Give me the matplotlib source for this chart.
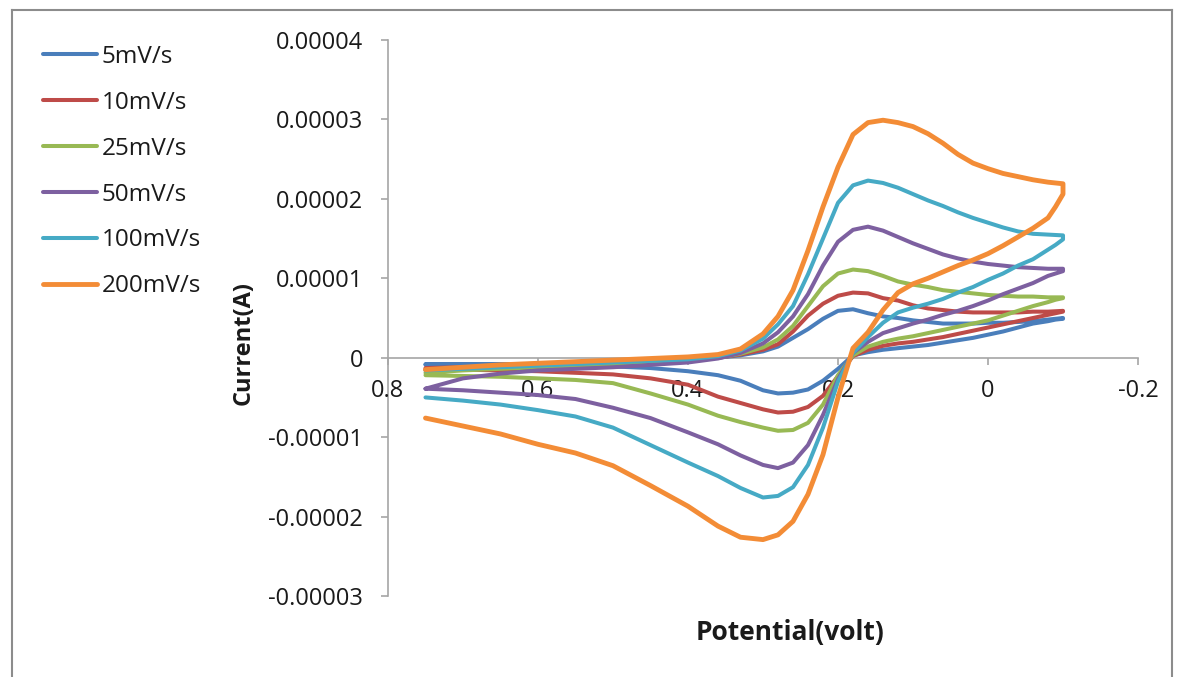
import matplotlib
matplotlib.use("Agg")
import matplotlib.pyplot as plt
from matplotlib.lines import Line2D

plt.rcParams['font.family'] = ['Open Sans', 'DejaVu Sans']

# potential grid (V): forward scan 0.75 -> -0.10, reverse scan back to 0.75
E_fwd = [0.75, 0.70, 0.65, 0.60, 0.55, 0.50, 0.45, 0.40, 0.36, 0.33, 0.30, 0.28, 0.26,
         0.24, 0.22, 0.20, 0.18, 0.16, 0.14, 0.12, 0.10, 0.08, 0.06, 0.04, 0.02, 0.00,
         -0.02, -0.04, -0.06, -0.08, -0.10]
E_rev = [-0.10, -0.10, -0.09, -0.08, -0.06, -0.04, -0.02, 0.00, 0.02, 0.04, 0.06, 0.08, 0.10,
         0.12, 0.14, 0.16, 0.18, 0.20, 0.22, 0.24, 0.26, 0.28, 0.30, 0.33, 0.36, 0.40, 0.45,
         0.50, 0.55, 0.60, 0.65, 0.70, 0.75]

labels = ["5mV/s", "10mV/s", "25mV/s", "50mV/s", "100mV/s", "200mV/s"]
colors = ["#4A7EBB", "#BE4B48", "#98B954", "#7D60A0", "#46AAC5", "#F38C36"]
widths = [2.9, 2.9, 2.9, 2.9, 2.9, 3.5]

# current in microamps
i_fwd_5 = [-0.8, -0.8, -0.8, -0.8, -0.8, -0.7, -0.6, -0.3, 0.0, 0.3, 0.8, 1.4, 2.5, 3.6, 4.9,
           5.9, 6.1, 5.6, 5.2, 5.0, 4.7, 4.5, 4.3, 4.3, 4.3, 4.4, 4.4, 4.5, 4.6, 4.8, 5.0]
i_rev_5 = [5.0, 4.9, 4.8, 4.6, 4.3, 3.8, 3.3, 2.9, 2.5, 2.2, 1.9, 1.6, 1.4, 1.2, 1.0, 0.7, 0.3, -1.4,
           -2.9, -4.0, -4.4, -4.5, -4.1, -2.9, -2.2, -1.7, -1.3, -1.1, -1.0, -0.9, -0.9, -0.9, -0.9]

i_fwd_10 = [-1.3, -1.2, -1.1, -1.0, -0.9, -0.7, -0.5, -0.3, 0.0, 0.4, 1.0, 1.7, 3.3, 5.3, 6.8,
            7.8, 8.2, 8.1, 7.5, 7.2, 6.6, 6.2, 6.0, 5.8, 5.7, 5.7, 5.7, 5.7, 5.8, 5.8, 5.9]
i_rev_10 = [5.9, 5.8, 5.6, 5.4, 5.0, 4.6, 4.2, 3.8, 3.4, 3.0, 2.6, 2.3, 2.0, 1.8, 1.5, 1.0, 0.2, -2.3,
            -4.8, -6.2, -6.8, -6.9, -6.5, -5.7, -4.9, -3.4, -2.6, -2.1, -1.9, -1.7, -1.6, -1.5, -1.5]

i_fwd_25 = [-1.9, -1.6, -1.4, -1.2, -1.0, -0.8, -0.6, -0.3, 0.0, 0.5, 1.3, 2.3, 4.0, 6.5, 9.0,
            10.6, 11.1, 10.9, 10.3, 9.6, 9.2, 8.9, 8.5, 8.3, 8.1, 7.9, 7.8, 7.7, 7.7, 7.6, 7.6]
i_rev_25 = [7.6, 7.5, 7.3, 7.0, 6.5, 5.9, 5.3, 4.7, 4.3, 3.9, 3.5, 3.1, 2.7, 2.4, 2.0, 1.4, 0.3, -2.2,
            -5.9, -8.2, -9.1, -9.2, -8.8, -8.1, -7.3, -5.9, -4.5, -3.2, -2.8, -2.6, -2.4, -2.3, -2.2]

i_fwd_50 = [-3.9, -2.6, -2.0, -1.6, -1.4, -1.2, -0.9, -0.6, -0.1, 0.6, 1.8, 3.2, 5.2, 8.0, 11.6,
            14.6, 16.1, 16.5, 16.0, 15.2, 14.4, 13.7, 13.0, 12.5, 12.1, 11.8, 11.6, 11.4, 11.3, 11.2, 11.2]
i_rev_50 = [11.2, 10.9, 10.6, 10.3, 9.4, 8.7, 8.0, 7.2, 6.5, 5.9, 5.4, 4.8, 4.3, 3.7, 3.1, 2.0, 0.6, -2.7,
            -7.2, -11.0, -13.2, -13.9, -13.5, -12.3, -10.9, -9.4, -7.6, -6.3, -5.2, -4.7, -4.4, -4.1, -3.9]

i_fwd_100 = [-1.6, -1.4, -1.2, -1.0, -0.8, -0.6, -0.4, -0.2, 0.2, 0.9, 2.4, 4.2, 6.5, 10.5, 15.0,
             19.5, 21.7, 22.3, 22.0, 21.4, 20.6, 19.8, 19.1, 18.3, 17.6, 17.0, 16.4, 15.9, 15.6, 15.5, 15.4]
i_rev_100 = [15.4, 14.9, 14.2, 13.6, 12.4, 11.6, 10.6, 9.8, 8.9, 8.2, 7.4, 6.8, 6.3, 5.7, 4.4, 2.6, 0.6, -3.0,
             -8.8, -13.5, -16.3, -17.4, -17.6, -16.4, -14.9, -13.2, -11.0, -8.8, -7.4, -6.6, -5.9, -5.4, -5.0]

i_fwd_200 = [-1.5, -1.2, -0.9, -0.7, -0.5, -0.3, -0.1, 0.1, 0.4, 1.1, 3.0, 5.2, 8.5, 13.5, 19.0,
             24.0, 28.1, 29.6, 29.9, 29.6, 29.1, 28.2, 27.0, 25.6, 24.5, 23.8, 23.2, 22.8, 22.4, 22.1, 21.9]
i_rev_200 = [21.9, 20.6, 19.0, 17.6, 16.3, 15.2, 14.1, 13.1, 12.3, 11.6, 10.8, 10.0, 9.3, 8.2, 6.0, 3.2, 1.2, -5.0,
             -12.2, -17.2, -20.6, -22.3, -22.9, -22.6, -21.2, -18.7, -16.1, -13.6, -12.0, -10.9, -9.6, -8.6, -7.6]

fwd = [i_fwd_5, i_fwd_10, i_fwd_25, i_fwd_50, i_fwd_100, i_fwd_200]
rev = [i_rev_5, i_rev_10, i_rev_25, i_rev_50, i_rev_100, i_rev_200]

x_ticks = [0.8, 0.6, 0.4, 0.2, 0.0, -0.2]
x_tick_labels = ["0.8", "0.6", "0.4", "0.2", "0", "-0.2"]
y_ticks = [-3e-5, -2e-5, -1e-5, 0, 1e-5, 2e-5, 3e-5, 4e-5]
y_tick_labels = ["-0.00003", "-0.00002", "-0.00001", "0", "0.00001", "0.00002", "0.00003", "0.00004"]

W, H = 1184, 677
fig = plt.figure(figsize=(W / 100, H / 100), dpi=100)
ax = fig.add_axes([388 / W, (H - 596) / H, 750 / W, 556 / H])

lines = []
for f, r, c, lw, lab in zip(fwd, rev, colors, widths, labels):
    xs = E_fwd + E_rev
    ys = [v * 1e-6 for v in f + r]
    ln, = ax.plot(xs, ys, color=c, lw=lw, label=lab, solid_joinstyle='round',
                  solid_capstyle='round')
    lines.append(ln)

ax.set_xlim(0.8, -0.2)
ax.set_ylim(-3e-5, 4e-5)

grey = "#a6a6a6"
ax.spines['top'].set_visible(False)
ax.spines['right'].set_visible(False)
ax.spines['bottom'].set_position(('data', 0))
for s in ['bottom', 'left']:
    ax.spines[s].set_color(grey)
    ax.spines[s].set_linewidth(1.2)
    ax.spines[s].set_zorder(0)

ax.set_xticks(x_ticks)
ax.set_xticklabels(x_tick_labels)
ax.set_yticks(y_ticks)
ax.set_yticklabels(y_tick_labels)
ax.tick_params(axis='both', direction='out', length=5, width=1.2, color=grey,
               labelsize=17, labelcolor='#1a1a1a')
ax.tick_params(axis='x', pad=10)
ax.tick_params(axis='y', pad=13)

ax.set_ylabel("Current(A)", fontsize=17, fontweight='bold', color='#1a1a1a')
ax.yaxis.set_label_coords(-0.176, 0.455)
ax.set_xlabel("Potential(volt)", fontsize=19, fontweight='bold', color='#1a1a1a')
ax.xaxis.set_label_coords(0.536, -0.041)

leg = fig.legend(handles=lines, loc='upper left', bbox_to_anchor=(43 / W, 1 - 45 / H),
                 frameon=False, fontsize=17.5, handlelength=2.22, handletextpad=0.2,
                 labelspacing=0.9, borderpad=0, borderaxespad=0)
for t in leg.get_texts():
    t.set_color('#1a1a1a')

# outer frame of the chart area
fx0, fx1, fy1 = 12 / W, 1172 / W, 1 - 10 / H
for xs, ys in [([fx0, fx0], [0, fy1]), ([fx0, fx1], [fy1, fy1]), ([fx1, fx1], [fy1, 0])]:
    fig.add_artist(Line2D(xs, ys, color="#8c8c8c", lw=1.5))

fig.savefig("out.png", dpi=100)
